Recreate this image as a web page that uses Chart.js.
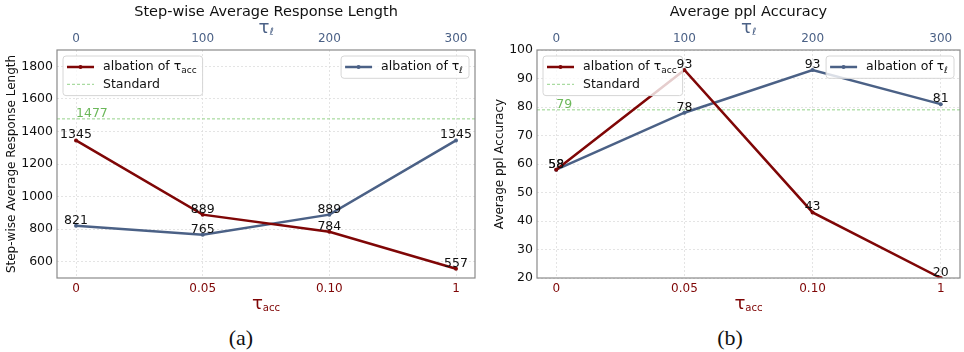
<!DOCTYPE html>
<html>
<head>
<meta charset="utf-8">
<script src="https://cdn.jsdelivr.net/npm/chart.js@4/dist/chart.umd.min.js"></script>
<style>
  body { margin: 0; background: #fff; }
  #wrap { position: relative; width: 964px; height: 352px; }
  canvas { position: absolute; top: 0; }
  .cap { position: absolute; top: 325px; width: 60px; text-align: center;
         font-family: 'Liberation Serif', 'Times New Roman', serif; font-size: 22px; color: #111; }
</style>
</head>
<body>
<div id="wrap">
  <canvas id="lenChart" width="482" height="320" style="left:0"></canvas>
  <canvas id="accChart" width="482" height="320" style="left:482px"></canvas>
  <div class="cap" style="left:211px">(a)</div>
  <div class="cap" style="left:700px">(b)</div>
</div>
<script>
// data
const tauAccLabels = ['0', '0.05', '0.10', '1'];
const tauLLabels = ['0', '100', '200', '300'];

const lenAcc = [1345, 889, 784, 557];
const lenL = [821, 765, 889, 1345];
const lenStandard = 1477;
const lenTicks = [600, 800, 1000, 1200, 1400, 1600, 1800];

const accAcc = [58, 93, 43, 20];
const accL = [58, 78, 93, 81];
const accStandard = 79;
const accTicks = [20, 30, 40, 50, 60, 70, 80, 90, 100];

const RED = '#7f0606';
const BLUE = '#4b6186';
const GREEN_LINE = '#95d38a';
const GREEN_TEXT = '#6cb85a';
const FONT = "'DejaVu Sans', sans-serif";
const X_MIN = -0.15, X_MAX = 3.15;

// text with a subscript part
function richWidth(ctx, parts, size) {
  let w = 0;
  parts.forEach(p => {
    ctx.font = (p.sub ? size * 0.72 : size * (p.big || 1)) + 'px ' + FONT;
    w += ctx.measureText(p.t).width;
  });
  return w;
}
function drawRich(ctx, parts, x, y, size, color) {
  ctx.fillStyle = color;
  ctx.textBaseline = 'middle';
  ctx.textAlign = 'left';
  parts.forEach(p => {
    ctx.font = (p.sub ? size * 0.72 : size * (p.big || 1)) + 'px ' + FONT;
    ctx.fillText(p.t, x, p.sub ? y + size * 0.28 : y);
    x += ctx.measureText(p.t).width;
  });
}

function drawLegend(ctx, items, x, y, alignRight) {
  const size = 12.5, rowH = 17.3;
  let tw = 0;
  items.forEach(it => { tw = Math.max(tw, richWidth(ctx, it.parts, size)); });
  const w = 4 + 27 + 9 + tw + 6;
  const h = items.length * rowH + 5;
  const bx = alignRight ? x - w : x;
  ctx.save();
  ctx.beginPath();
  ctx.roundRect(bx, y, w, h, 3);
  ctx.fillStyle = 'rgba(255,255,255,0.8)';
  ctx.fill();
  ctx.strokeStyle = '#d6d6d6';
  ctx.lineWidth = 1;
  ctx.stroke();
  items.forEach((it, i) => {
    const cy = y + 11 + i * rowH;
    ctx.beginPath();
    ctx.strokeStyle = it.color;
    ctx.lineWidth = it.dash ? 1 : 2.5;
    ctx.setLineDash(it.dash ? [3, 2] : []);
    ctx.moveTo(bx + 4, cy);
    ctx.lineTo(bx + 31, cy);
    ctx.stroke();
    ctx.setLineDash([]);
    if (!it.dash) {
      ctx.beginPath();
      ctx.fillStyle = it.color;
      ctx.arc(bx + 17.5, cy, 2, 0, Math.PI * 2);
      ctx.fill();
    }
    drawRich(ctx, it.parts, bx + 40, cy, size, '#111');
  });
  ctx.restore();
}

const decorPlugin = {
  id: 'decor',
  afterDatasetsDraw(chart, args, opts) {
    const ctx = chart.ctx;
    const area = chart.chartArea;
    const xs = chart.scales.x, ys = chart.scales.y;
    ctx.save();
    // standard value label
    ctx.font = '12.5px ' + FONT;
    ctx.fillStyle = GREEN_TEXT;
    ctx.textAlign = 'left';
    ctx.textBaseline = 'alphabetic';
    ctx.fillText(String(opts.standard), xs.getPixelForValue(0), ys.getPixelForValue(opts.standard) - 2);
    // spines
    ctx.strokeStyle = '#8a8a8a';
    ctx.lineWidth = 1.2;
    ctx.strokeRect(area.left, area.top, area.right - area.left, area.bottom - area.top);
    ctx.restore();
  },
  afterDraw(chart, args, opts) {
    const ctx = chart.ctx;
    const area = chart.chartArea;
    const cx = (area.left + area.right) / 2;
    ctx.save();
    drawLegend(ctx, [
      { parts: [{ t: 'albation of τ' }, { t: 'acc', sub: true }], color: RED },
      { parts: [{ t: 'Standard' }], color: GREEN_LINE, dash: true }
    ], area.left + 6, area.top + 6, false);
    drawLegend(ctx, [
      { parts: [{ t: 'albation of τ' }, { t: 'ℓ', sub: true }], color: BLUE }
    ], area.right - 6, area.top + 6, true);
    // value labels (on top of legends)
    ctx.font = '12.5px ' + FONT;
    ctx.fillStyle = '#111';
    ctx.textAlign = 'center';
    ctx.textBaseline = 'alphabetic';
    [0, 1].forEach(di => {
      const meta = chart.getDatasetMeta(di);
      chart.data.datasets[di].data.forEach((d, i) => {
        const el = meta.data[i];
        ctx.fillText(String(d.y), el.x, el.y - 2);
      });
    });
    // title
    ctx.fillStyle = '#111';
    ctx.font = '14.5px ' + FONT;
    ctx.textAlign = 'center';
    ctx.textBaseline = 'middle';
    ctx.fillText(opts.title, cx, 12);
    // top axis title
    const tl = [{ t: 'τ', big: 1.3 }, { t: 'ℓ', sub: true }];
    drawRich(ctx, tl, cx - richWidth(ctx, tl, 14) / 2, 28, 14, BLUE);
    // bottom axis title
    const tb = [{ t: 'τ', big: 1.3 }, { t: 'acc', sub: true }];
    drawRich(ctx, tb, cx - richWidth(ctx, tb, 14) / 2, 304, 14, RED);
    // y axis title
    ctx.translate(opts.yTitleX, (area.top + area.bottom) / 2);
    ctx.rotate(-Math.PI / 2);
    ctx.fillStyle = '#111';
    ctx.font = '12px ' + FONT;
    ctx.textAlign = 'center';
    ctx.textBaseline = 'middle';
    ctx.fillText(opts.yTitle, 0, 0);
    ctx.restore();
  }
};

function makeChart(id, accVals, lVals, standard, yTicks, yMin, yMax, title, yTitle, yTitleX, padRight, yWidth) {
  const toPts = arr => arr.map((v, i) => ({ x: i, y: v }));
  return new Chart(document.getElementById(id).getContext('2d'), {
    type: 'line',
    data: {
      datasets: [{
        label: 'albation of τacc',
        data: toPts(accVals),
        borderColor: RED,
        backgroundColor: RED,
        borderWidth: 2.5,
        pointRadius: 2,
        pointBorderWidth: 0
      }, {
        label: 'albation of τℓ',
        data: toPts(lVals),
        borderColor: BLUE,
        backgroundColor: BLUE,
        borderWidth: 2.5,
        pointRadius: 2,
        pointBorderWidth: 0
      }, {
        label: 'Standard',
        data: [{ x: X_MIN, y: standard }, { x: X_MAX, y: standard }],
        borderColor: GREEN_LINE,
        borderWidth: 1,
        borderDash: [3, 2],
        pointRadius: 0
      }]
    },
    options: {
      responsive: false,
      animation: false,
      layout: { padding: { left: 0, right: padRight, top: 0, bottom: 0 } },
      plugins: {
        legend: { display: false },
        tooltip: { enabled: false },
        decor: { standard: standard, title: title, yTitle: yTitle, yTitleX: yTitleX }
      },
      scales: {
        x: {
          type: 'linear',
          position: 'bottom',
          min: X_MIN,
          max: X_MAX,
          afterBuildTicks: s => { s.ticks = tauAccLabels.map((t, i) => ({ value: i })); },
          afterFit: s => { s.height = 42; },
          ticks: {
            callback: v => tauAccLabels[v],
            color: RED,
            font: { family: FONT, size: 12 },
            padding: 4,
            maxRotation: 0
          },
          grid: { color: '#dedede', lineWidth: 0.8, drawTicks: false },
          border: { display: false, dash: [2, 2] }
        },
        x2: {
          type: 'linear',
          position: 'top',
          min: X_MIN,
          max: X_MAX,
          afterBuildTicks: s => { s.ticks = tauLLabels.map((t, i) => ({ value: i })); },
          afterFit: s => { s.height = 50; },
          ticks: {
            callback: v => tauLLabels[v],
            color: BLUE,
            font: { family: FONT, size: 12 },
            padding: 4,
            maxRotation: 0
          },
          grid: { display: false, drawTicks: false },
          border: { display: false }
        },
        y: {
          min: yMin,
          max: yMax,
          afterBuildTicks: s => { s.ticks = yTicks.map(v => ({ value: v })); },
          afterFit: s => { s.width = yWidth; },
          ticks: {
            callback: v => String(v),
            color: '#111',
            font: { family: FONT, size: 12.5 },
            padding: 4
          },
          grid: { color: '#dedede', lineWidth: 0.8, drawTicks: false },
          border: { display: false, dash: [2, 2] }
        }
      }
    },
    plugins: [decorPlugin]
  });
}

makeChart('lenChart', lenAcc, lenL, lenStandard, lenTicks, 500, 1900,
  'Step-wise Average Response Length', 'Step-wise Average Response Length', 12, 7, 57);
makeChart('accChart', accAcc, accL, accStandard, accTicks, 20, 100,
  'Average ppl Accuracy', 'Average ppl Accuracy', 18, 1, 55);
</script>
</body>
</html>
